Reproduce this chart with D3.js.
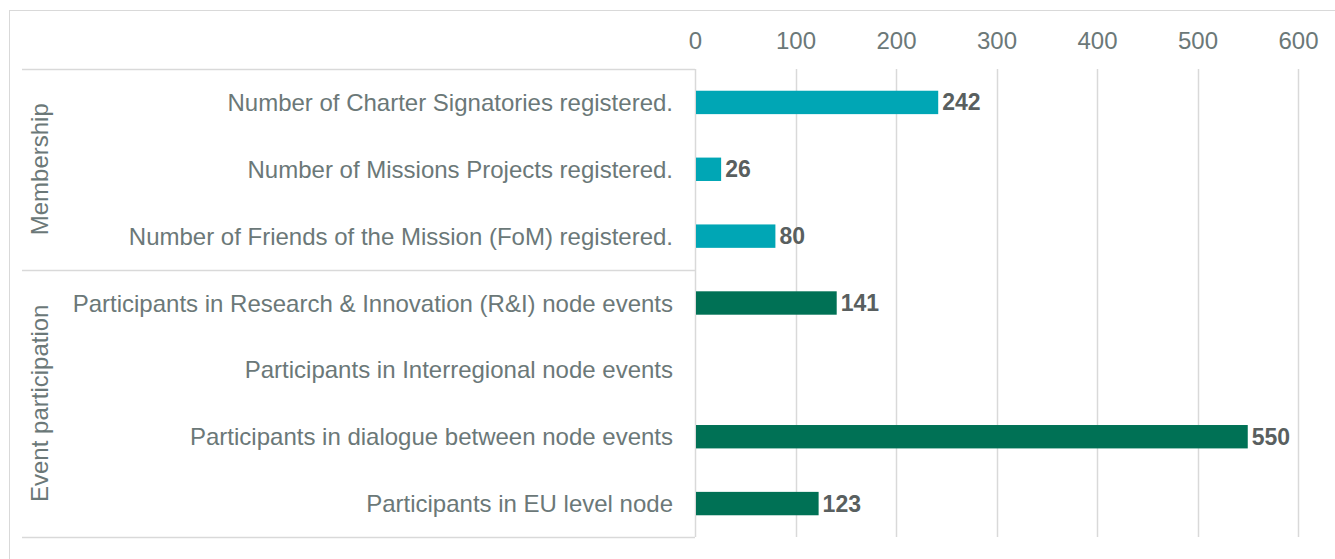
<!DOCTYPE html>
<html>
<head>
<meta charset="utf-8">
<script src="https://cdn.jsdelivr.net/npm/d3@7"></script>
<style>
  body { margin: 0; background: #fff; }
  svg { display: block; font-family: "Liberation Sans", Arial, sans-serif; }
</style>
</head>
<body>
<div id="chart"></div>
<script>
// categories, groups and values
const categorias = [
  "Number of Charter Signatories registered.",
  "Number of Missions Projects registered.",
  "Number of Friends of the Mission (FoM) registered.",
  "Participants in Research & Innovation (R&I) node events",
  "Participants in Interregional node events",
  "Participants in dialogue between node events",
  "Participants in EU level node"
]
const valores = [242, 26, 80, 141, null, 550, 123]
const grupos = ["Membership", "Membership", "Membership",
  "Event participation", "Event participation", "Event participation", "Event participation"]
const nombresGrupo = ["Membership", "Event participation"]
const coloresGrupo = ["#00a6b5", "#007155"]
const ticks = [0, 100, 200, 300, 400, 500, 600]

// dimensiones
const anchoTotal = 1335
const altoTotal = 559
const margins = { top: 69, right: 37, bottom: 22, left: 695 }

const svg = d3.select("#chart")
  .append("svg")
  .attr("width", anchoTotal)
  .attr("height", altoTotal)

// marco exterior
svg.append("rect")
  .attr("x", 9.5).attr("y", 10.5)
  .attr("width", anchoTotal).attr("height", altoTotal)
  .attr("fill", "none")
  .attr("stroke", "#d9d9d9")

const g = svg.append("g")
  .attr("transform", `translate(${margins.left},${margins.top})`)

const x = d3.scaleLinear().domain([0, 600]).range([0, 603])
const y = d3.scaleBand().domain(categorias).range([0, 468]).paddingInner(0.65).paddingOuter(0.325)
const color = d3.scaleOrdinal().domain(nombresGrupo).range(coloresGrupo)

// lineas de la grilla
g.append("g")
  .selectAll("line")
  .data(ticks)
  .join("line")
  .attr("x1", d => Math.round(x(d)) + 0.5)
  .attr("x2", d => Math.round(x(d)) + 0.5)
  .attr("y1", 0)
  .attr("y2", 468)
  .attr("stroke", "#d9d9d9")
  .attr("stroke-width", 1.5)

// eje superior
const ejeX = g.append("g")
  .call(d3.axisTop(x).tickValues(ticks).tickSize(0).tickPadding(20))
ejeX.select(".domain").remove()
ejeX.selectAll("text")
  .attr("font-size", 24)
  .attr("font-family", "Liberation Sans, Arial, sans-serif")
  .attr("fill", "#6b7878")

// caja de la izquierda (grupos)
const paso = y.step()
const limitesGrupo = nombresGrupo.map(n => {
  const idx = grupos.map((d, i) => d === n ? i : -1).filter(i => i >= 0)
  return { nombre: n, y0: idx[0] * paso, y1: (idx[idx.length - 1] + 1) * paso }
})

const caja = g.append("g")
caja.selectAll("line.sep")
  .data([0, ...limitesGrupo.map(d => d.y1)])
  .join("line")
  .attr("class", "sep")
  .attr("x1", 22 - margins.left)
  .attr("x2", 0)
  .attr("y1", d => Math.round(d) + 0.5)
  .attr("y2", d => Math.round(d) + 0.5)
  .attr("stroke", "#d9d9d9")
  .attr("stroke-width", 1.5)

caja.selectAll("text.grupo")
  .data(limitesGrupo)
  .join("text")
  .attr("class", "grupo")
  .attr("transform", d => `translate(${39 - margins.left},${(d.y0 + d.y1) / 2}) rotate(-90)`)
  .attr("text-anchor", "middle")
  .attr("dominant-baseline", "central")
  .attr("font-size", 24)
  .attr("fill", "#6b7878")
  .text(d => d.nombre)

// etiquetas de categorias
g.append("g")
  .selectAll("text")
  .data(categorias)
  .join("text")
  .attr("x", -22)
  .attr("y", d => y(d) + y.bandwidth() / 2)
  .attr("text-anchor", "end")
  .attr("dominant-baseline", "central")
  .attr("font-size", 24)
  .attr("fill", "#6b7878")
  .text(d => d)

const filas = categorias.map((c, i) => ({ cat: c, valor: valores[i], grupo: grupos[i] }))
  .filter(d => d.valor != null)

// barras
g.append("g")
  .selectAll("rect")
  .data(filas)
  .join("rect")
  .attr("x", x(0) + 1)
  .attr("y", d => y(d.cat))
  .attr("width", d => x(d.valor) - 1)
  .attr("height", y.bandwidth())
  .attr("fill", d => color(d.grupo))

// valores
g.append("g")
  .selectAll("text")
  .data(filas)
  .join("text")
  .attr("x", d => x(d.valor) + 4)
  .attr("y", d => y(d.cat) + y.bandwidth() / 2)
  .attr("dominant-baseline", "central")
  .attr("font-size", 23)
  .attr("font-weight", "bold")
  .attr("fill", "#595f5f")
  .text(d => d.valor)
</script>
</body>
</html>
